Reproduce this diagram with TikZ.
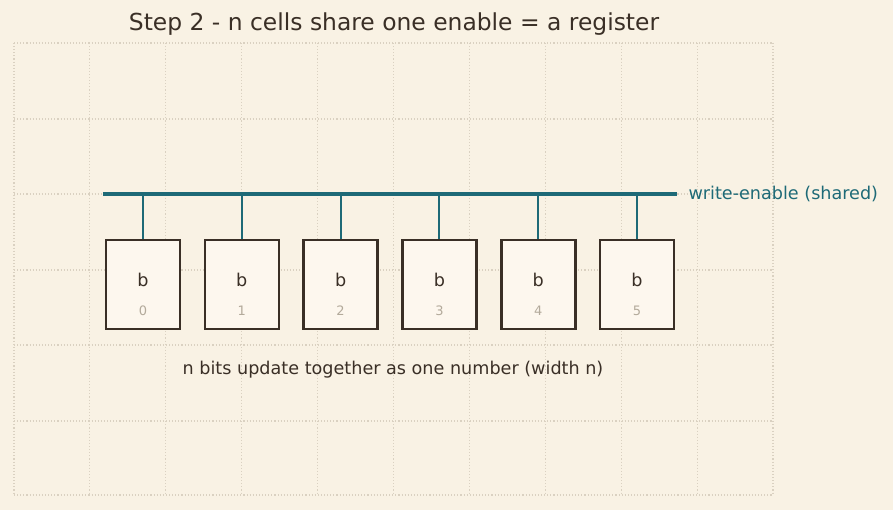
\documentclass[tikz,border=0pt]{standalone}
\usepackage{fontspec}
\setmainfont{DejaVu Sans}
\usetikzlibrary{arrows.meta,calc,positioning}
\definecolor{paper}{HTML}{F9F2E4}
\definecolor{ink}{HTML}{3A2F26}
\definecolor{wire}{HTML}{1E6A77}
\definecolor{cellfill}{HTML}{FDF7EE}
\definecolor{faint}{HTML}{B3AA9B}
\definecolor{gridcol}{HTML}{DAD1C1}
\tikzset{
  gridline/.style={gridcol,dotted,line width=1.1pt},
  bus/.style={wire,line width=4pt},
  stub/.style={wire,line width=2pt},
  cell/.style={draw=ink,fill=cellfill,line width=2.6pt,minimum width=74pt,minimum height=89pt,inner sep=0pt},
  bitname/.style={text=ink,font=\fontsize{17.6}{20}\selectfont},
  bitidx/.style={text=faint,font=\fontsize{13}{15}\selectfont}
}

\begin{document}
\begin{tikzpicture}[x=1pt,y=-1pt]
    \fill[paper] (0,0) rectangle (893,510);
    \useasboundingbox (0,0) rectangle (893,510);

    % background grid
    \foreach \i in {0,...,10}
      \draw[gridline] ({14+75.9*\i},43) -- ({14+75.9*\i},495);
    \foreach \y in {43,119,194,270,345,421,495}
      \draw[gridline] (14,\y) -- (773,\y);

    \node[text=ink,font=\fontsize{23.4}{27}\selectfont] (title) at (394,24) {Step 2 - n cells share one enable = a register};

    \coordinate (busL) at (103,194);
    \coordinate (busR) at (677,194);
    \draw[bus] (busL) -- (busR);
    \node[anchor=west,text=wire,font=\fontsize{17.6}{20}\selectfont] (we) at (685,194) {write-enable (shared)};

    \foreach \i in {0,...,5} {
      \node[cell] (c\i) at ({143+98.8*\i},284.5) {};
      \node[bitname] (b\i) at ([yshift=4.5pt]c\i.center) {b};
      \node[bitidx] (n\i) at ([yshift=-26.5pt]c\i.center) {\i};
      \draw[stub] (c\i.north) -- (c\i.north |- busL);
    }

    \node[text=ink,font=\fontsize{17.6}{20}\selectfont] (note) at (393,370) {n bits update together as one number (width n)};
  \end{tikzpicture}
\end{document}
